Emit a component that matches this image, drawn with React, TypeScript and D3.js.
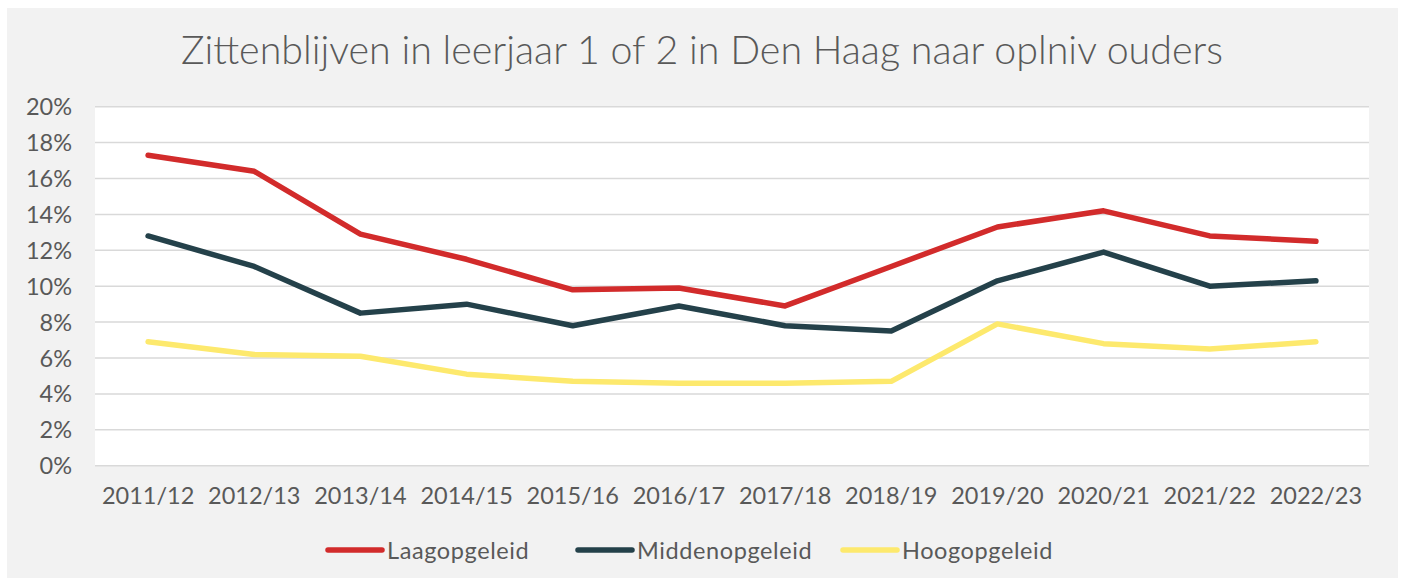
import * as d3 from "d3";

const title = "Zittenblijven in leerjaar 1 of 2 in Den Haag naar oplniv ouders";
const years = [
  "2011/12", "2012/13", "2013/14", "2014/15", "2015/16", "2016/17",
  "2017/18", "2018/19", "2019/20", "2020/21", "2021/22", "2022/23",
];
const laag = [17.3, 16.4, 12.9, 11.5, 9.8, 9.9, 8.9, 11.1, 13.3, 14.2, 12.8, 12.5];
const midden = [12.8, 11.1, 8.5, 9.0, 7.8, 8.9, 7.8, 7.5, 10.3, 11.9, 10.0, 10.3];
const hoog = [6.9, 6.2, 6.1, 5.1, 4.7, 4.6, 4.6, 4.7, 7.9, 6.8, 6.5, 6.9];
const yTicks = [0, 2, 4, 6, 8, 10, 12, 14, 16, 18, 20];

const SERIES = [
  { name: "Laagopgeleid", values: laag, colour: "#d22b2b" },
  { name: "Middenopgeleid", values: midden, colour: "#24414a" },
  { name: "Hoogopgeleid", values: hoog, colour: "#fde96d" },
];

const W = 1402;
const H = 582;
const PLOT = { left: 95, right: 1369, top: 106.7, bottom: 465.7 };
const FONT = "Lato, 'Open Sans', sans-serif";
const TEXT = "#595959";

// legend swatch start positions
const legendX = [328, 578, 843];

export default function App() {
  const x = d3.scaleBand<string>().domain(years).range([PLOT.left, PLOT.right]);
  const y = d3.scaleLinear().domain([0, 20]).range([PLOT.bottom, PLOT.top]);
  const line = d3
    .line<number>()
    .x((_, i) => (x(years[i]) ?? 0) + x.bandwidth() / 2)
    .y((d) => y(d));

  return (
    <svg
      width={W}
      height={H}
      style={{ position: "absolute", left: 0, top: 0, fontFamily: FONT }}
    >
      <rect x={0} y={0} width={W} height={H} fill="#ffffff" />
      <rect x={7} y={8} width={1391} height={570} fill="#f2f2f2" />
      <rect
        x={PLOT.left}
        y={PLOT.top}
        width={PLOT.right - PLOT.left}
        height={PLOT.bottom - PLOT.top}
        fill="#ffffff"
      />

      <text
        x={702}
        y={64}
        textAnchor="middle"
        fill={TEXT}
        style={{ fontSize: 39.4, fontWeight: 300 }}
      >
        {title}
      </text>

      {yTicks.map((t) => (
        <g key={t}>
          <line
            x1={PLOT.left}
            x2={PLOT.right}
            y1={y(t)}
            y2={y(t)}
            stroke="#d9d9d9"
            strokeWidth={1.5}
          />
          <text
            x={72}
            y={y(t) + 8.5}
            textAnchor="end"
            fill={TEXT}
            style={{ fontSize: 23.5 }}
          >
            {`${t}%`}
          </text>
        </g>
      ))}

      {years.map((yr) => (
        <text
          key={yr}
          x={(x(yr) ?? 0) + x.bandwidth() / 2}
          y={504}
          textAnchor="middle"
          fill={TEXT}
          style={{ fontSize: 23.5 }}
        >
          {yr}
        </text>
      ))}

      {SERIES.map((s) => (
        <path
          key={s.name}
          d={line(s.values) ?? ""}
          fill="none"
          stroke={s.colour}
          strokeWidth={5.5}
          strokeLinecap="round"
          strokeLinejoin="round"
        />
      ))}

      {SERIES.map((s, i) => (
        <g key={`lg-${s.name}`}>
          <line
            x1={legendX[i]}
            x2={legendX[i] + 54}
            y1={550}
            y2={550}
            stroke={s.colour}
            strokeWidth={5.5}
            strokeLinecap="round"
          />
          <text
            x={legendX[i] + 59}
            y={559}
            fill={TEXT}
            style={{ fontSize: 23.5, letterSpacing: 0.6 }}
          >
            {s.name}
          </text>
        </g>
      ))}
    </svg>
  );
}
